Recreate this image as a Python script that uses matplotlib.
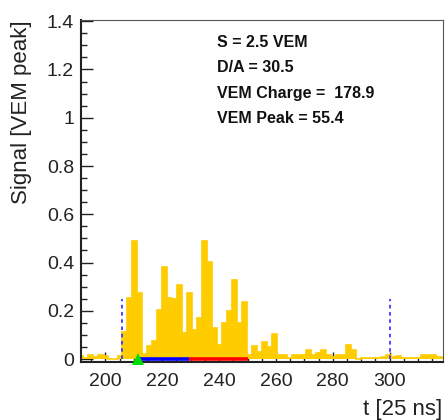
import numpy as np
import matplotlib
matplotlib.use("Agg")
import matplotlib.pyplot as plt
from matplotlib.ticker import MultipleLocator

plt.rcParams['font.family'] = ['Liberation Sans', 'DejaVu Sans']

# Trace binning (t in units of 25 ns)
bin_start = 190.25
bin_width = 1.75

# Signal per bin [VEM peak]
pre_trace = [0.012, 0.004, 0.015, 0.008, 0.017, 0.012, 0.002, 0.002, 0.012]
pulse = [0.112, 0.255, 0.49, 0.273, 0.02, 0.055, 0.073, 0.204, 0.381, 0.255,
         0.25, 0.309, 0.11, 0.275, 0.12, 0.17, 0.49, 0.403, 0.127, 0.06,
         0.15, 0.2, 0.327, 0.15, 0.237, 0.017, 0.054, 0.03, 0.072, 0.05,
         0.106]
tail = [0.017, 0.017, 0.005, 0.017, 0.017, 0.017, 0.037, 0.017, 0.025, 0.037,
        0.017, 0.01, 0.017, 0.017, 0.06, 0.037, 0.0, 0.005, 0.005, 0.005,
        0.005, 0.008, 0.017, 0.008, 0.012, 0.003, 0.003, 0.003, 0.003, 0.017,
        0.017, 0.017, 0.01, 0.01]
signal = np.array(pre_trace + pulse + tail)
edges = bin_start + bin_width * np.arange(len(signal) + 1)

# Trace window markers and integration ranges
window = [206.0, 300.0]
window_height = 0.25
start_marker = 211.5
blue_range = [212.0, 229.5]
red_range = [229.5, 250.0]

info_lines = ["S = 2.5 VEM", "D/A = 30.5", "VEM Charge =  178.9", "VEM Peak = 55.4"]

fig = plt.figure(figsize=(4.46, 4.20), dpi=100)
ax = fig.add_axes([81 / 446, 58 / 420, 362 / 446, 342 / 420])

gold = '#FFCC00'
ax.stairs(signal, edges, fill=True, color=gold, zorder=2)
ax.stairs(signal, edges, fill=False, color=gold, linewidth=1.2, zorder=2)

for x in window:
    ax.plot([x, x], [0, window_height], color='#3b3bff', linewidth=1.3,
            linestyle=(0, (2, 2)), zorder=3)

ax.plot(blue_range, [0, 0], color='#0000ff', linewidth=2.6,
        solid_capstyle='butt', clip_on=False, zorder=4)
ax.plot(red_range, [0, 0], color='#ff0000', linewidth=2.6,
        solid_capstyle='butt', clip_on=False, zorder=4)
ax.plot([start_marker], [0.0], marker='^', markersize=8, color='#00e000',
        markeredgewidth=0, clip_on=False, zorder=5)

ax.set_xlim(191.4, 318.8)
ax.set_ylim(-0.012, 1.405)

ax.xaxis.set_major_locator(MultipleLocator(20))
ax.xaxis.set_minor_locator(MultipleLocator(5))
ax.yaxis.set_major_locator(MultipleLocator(0.2))
ax.yaxis.set_minor_locator(MultipleLocator(0.05))
ax.yaxis.set_major_formatter(plt.FuncFormatter(lambda v, p: f"{v:g}"))

ax.tick_params(axis='both', which='both', direction='in', colors='#222222',
               labelcolor='#222222', labelsize=14)
ax.tick_params(axis='y', which='major', length=8.5, width=1.0, pad=5)
ax.tick_params(axis='y', which='minor', length=4.3, width=1.0)
ax.tick_params(axis='x', which='major', length=7, width=1.0, pad=8)
ax.tick_params(axis='x', which='minor', length=3.5, width=1.0)

for side in ('left', 'bottom'):
    ax.spines[side].set_linewidth(1.5)
    ax.spines[side].set_color('#222222')
for side in ('top', 'right'):
    ax.spines[side].set_linewidth(0.8)
    ax.spines[side].set_color('#555555')

ax.set_ylabel("Signal [VEM peak]", fontsize=16, color='#222222', loc='top')
ax.yaxis.set_label_coords(-0.135, 1.0)
ax.set_xlabel("t [25 ns]", fontsize=16, color='#222222', loc='right')
ax.xaxis.set_label_coords(0.997, -0.108)

for i, line in enumerate(info_lines):
    ax.text(0.375, 0.922 - i * 0.0745, line, transform=ax.transAxes,
            fontsize=11.5, fontweight='bold', color='#111111',
            ha='left', va='baseline')

fig.savefig("out.png", dpi=100)
